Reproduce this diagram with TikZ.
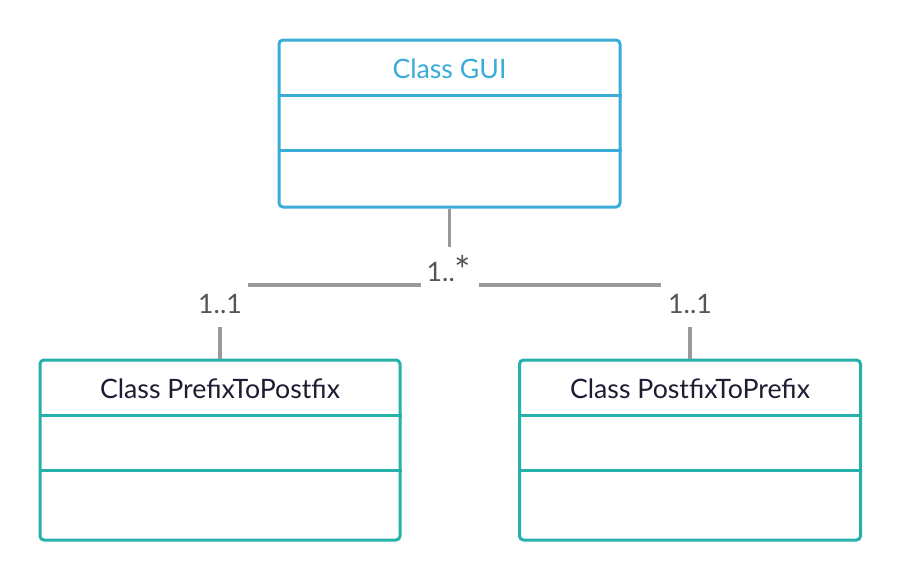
\documentclass[tikz,border=0pt]{standalone}
\usepackage{fontspec}
\setmainfont{Lato}
\usetikzlibrary{calc}

\definecolor{guiBlue}{HTML}{3AACD8}
\definecolor{classTeal}{HTML}{26B0AA}
\definecolor{titleInk}{HTML}{1C1C33}
\definecolor{linkGray}{HTML}{999999}
\definecolor{multGray}{HTML}{555555}

\newlength\titleHeight
\setlength\titleHeight{57pt}
\newlength\rowHeight
\setlength\rowHeight{55pt}

\tikzset{
  classbox/.style={draw=#1, line width=3pt, rounded corners=4pt, fill=white, inner sep=0pt},
  classline/.style={draw=#1, line width=3pt},
  title/.style={font=\fontsize{26.7}{30}\selectfont, inner sep=0pt},
  link/.style={draw=linkGray, line width=3.2pt},
  mult/.style={font=\fontsize{26.7}{30}\selectfont, text=multGray, inner sep=0pt}
}

% name, centre, width, height, colour, title colour, title
\newcommand\drawClass[7]{
  \node[classbox=#5, minimum width=#3, minimum height=#4] (#1) at (#2) {};
  \node[title, text=#6] (#1Title) at ($(#1.north)+(0,-0.53\titleHeight)$) {#7};
  \foreach \k in {0,1} {
    \draw[classline=#5] ($(#1.north west)+(0,-\titleHeight-\k\rowHeight)$) -- ($(#1.north east)+(0,-\titleHeight-\k\rowHeight)$);
  }
}
\newcommand\manyMark{\raisebox{-0.12em}{\scalebox{1.45}{*}}}

\begin{document}
\begin{tikzpicture}[x=1pt, y=-1pt]
  \useasboundingbox (0,0) rectangle (900,581);

  \drawClass{gui}{449.5,123.5}{341pt}{167pt}{guiBlue}{guiBlue}{Class GUI}
  \drawClass{pre}{220,450}{360pt}{180pt}{classTeal}{titleInk}{Class PrefixToPostfix}
  \drawClass{post}{690,450}{341pt}{180pt}{classTeal}{titleInk}{Class PostfixToPrefix}

  % multiplicities
  \node[mult] (mGui) at (449,270) {1..\manyMark};
  \node[mult] (mPre) at (220,304) {1..1};
  \node[mult] (mPost) at (690,304) {1..1};

  \coordinate (guiStub) at ($(gui.south)+(0,38)$);
  \coordinate (busL) at (248,285);
  \coordinate (busLm) at (421,285);
  \coordinate (busRm) at (479,285);
  \coordinate (busR) at (661,285);
  \coordinate (preStub) at ($(pre.north)+(0,-32)$);
  \coordinate (postStub) at ($(post.north)+(0,-32)$);

  \draw[link] (gui.south) -- (guiStub);
  \draw[link] (busL) -- (busLm);
  \draw[link] (busRm) -- (busR);
  \draw[link] (preStub) -- (pre.north);
  \draw[link] (postStub) -- (post.north);
\end{tikzpicture}
\end{document}
